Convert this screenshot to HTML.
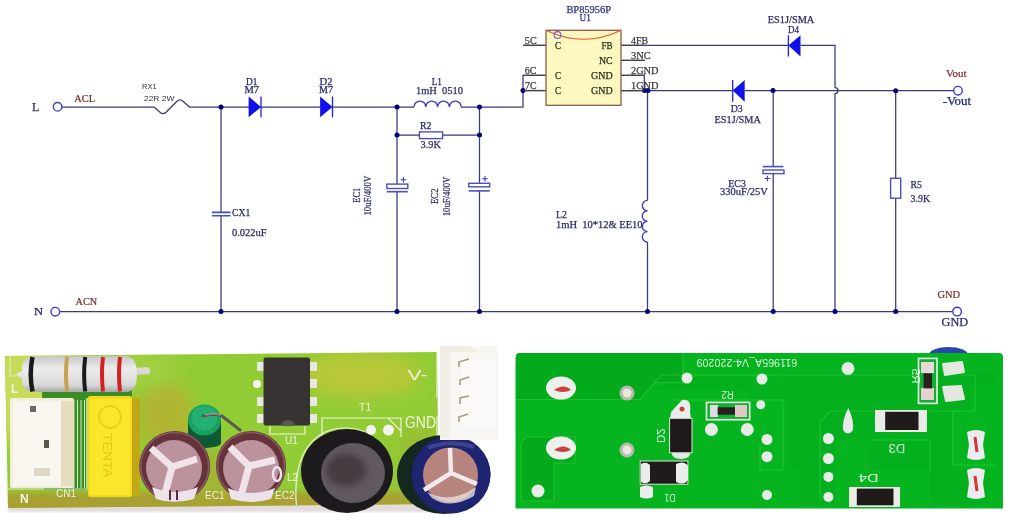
<!DOCTYPE html>
<html><head><meta charset="utf-8">
<style>
html,body{margin:0;padding:0;background:#fff;}
body{width:1010px;height:518px;overflow:hidden;position:relative;}
svg{position:absolute;left:0;top:0;}
#ph{filter:blur(0.6px);}
#sch{filter:blur(0.25px);}
text{font-family:"Liberation Serif",serif;}
.s{font-family:"Liberation Sans",sans-serif;}
</style></head><body>
<svg id="sch" width="1010" height="340" viewBox="0 0 1010 340">
<g fill="none" stroke="#3a3a76" stroke-width="1.25">
 <!-- top main line -->
 <path d="M62 107 H154"/>
 <path d="M154 107 L160 112.3 Q163 115 166 112.3 L177 101.2 Q180 98.5 183 101.2 L189.5 107 H249"/>
 <path d="M261 107 H320"/>
 <path d="M332.5 107 H414"/>
 <path d="M461 107 H523 V75.4 H546"/>
 <path d="M523 90.5 H546"/>
 <path d="M523 45.4 H546"/>
 <path d="M621 45.4 H788"/>
 <path d="M800.5 45.4 H835 V87.5 A3 3 0 0 1 835 93.5 V311.6"/>
 <path d="M621 60.4 H644.8"/>
 <path d="M621 75.4 H644.3 V90.5"/>
 <path d="M621 90.5 H732.7"/>
 <path d="M744.7 90.5 H953.5"/>
 <!-- verticals -->
 <path d="M221 107 V212.4 M221 215.7 V311.6"/>
 <path d="M397 107 V184 M397 191.7 V311.6"/>
 <path d="M397 135.1 H419.4 M442.6 135.1 H479.5"/>
 <path d="M479.5 107 V183.3 M479.5 190.9 V311.6"/>
 <path d="M647.5 90.5 V200.4 M647.5 242 V311.6"/>
 <path d="M773.2 90.5 V166.6 M773.2 173.6 V311.6"/>
 <path d="M895.7 90.5 V178.3 M895.7 198.2 V311.6"/>
 <!-- bottom line -->
 <path d="M60 311.6 H952.5"/>
</g>
<!-- components -->
<g fill="none" stroke="#3b3fc0" stroke-width="1.4">
 <circle cx="57.6" cy="106.8" r="4.3"/>
 <circle cx="55.3" cy="311.7" r="4.3"/>
 <circle cx="958" cy="90.7" r="4.3"/>
 <circle cx="957.1" cy="311.6" r="4.3"/>
 <!-- CX1 plates -->
 <path d="M211.8 212.4 H230.6 M211.8 215.7 H230.6" stroke-width="1.6" stroke="#4a4fc0"/>
 <!-- EC1 -->
 <rect x="386.8" y="184.1" width="21" height="4.4" stroke="#4a4fc0"/>
 <path d="M386.8 191.7 H407.8" stroke="#4a4fc0" stroke-width="1.6"/>
 <path d="M400.5 179.8 H406.3 M403.4 177 V182.6" stroke-width="1.1"/>
 <!-- EC2 -->
 <rect x="468.7" y="183.3" width="21" height="3.5" stroke="#4a4fc0"/>
 <path d="M468.7 190.9 H489.8" stroke="#4a4fc0" stroke-width="1.6"/>
 <path d="M482.1 178.7 H487.9 M485 175.9 V181.5" stroke-width="1.1"/>
 <!-- EC3 -->
 <path d="M762.9 166.6 H783.4" stroke="#4a4fc0" stroke-width="1.6"/>
 <rect x="763" y="170" width="21" height="3.6" stroke="#4a4fc0"/>
 <path d="M764.5 178.5 H770.3 M767.4 175.7 V181.3" stroke-width="1.1"/>
 <!-- R2 -->
 <rect x="419.4" y="131.9" width="23.2" height="6.7" stroke="#4a4fc0"/>
 <!-- R5 -->
 <rect x="890.6" y="178.3" width="10.1" height="19.9" stroke="#4a4fc0"/>
 <!-- L1 -->
 <path d="M414 107 A5.9 5.9 0 0 1 425.8 107 A5.9 5.9 0 0 1 437.6 107 A5.9 5.9 0 0 1 449.4 107 A5.9 5.9 0 0 1 461.2 107" stroke="#3b3fc0"/>
 <!-- L2 -->
 <path d="M647.5 200.4 A5.2 5.2 0 0 0 647.5 210.8 A5.2 5.2 0 0 0 647.5 221.2 A5.2 5.2 0 0 0 647.5 231.6 A5.2 5.2 0 0 0 647.5 242" stroke="#3b3fc0"/>
 <!-- diode cathode bars -->
 <path d="M261 96.5 V117.3 M332.5 96.5 V117.3 M788.4 35.2 V56.5 M732.7 79.9 V101.7" stroke="#2020e0" stroke-width="1.3"/>
</g>
<g fill="#1010ee">
 <path d="M248.6 96.5 L261 107 L248.6 117.3 Z"/>
 <path d="M320.1 96.5 L332.5 107 L320.1 117.3 Z"/>
 <path d="M800.5 35.2 L788.4 45.4 L800.5 56.5 Z"/>
 <path d="M744.7 79.9 L732.7 90.5 L744.7 101.7 Z"/>
</g>
<!-- junctions -->
<g fill="#00007a">
 <circle cx="221" cy="107" r="2.5"/><circle cx="397" cy="107" r="2.5"/><circle cx="479.5" cy="107" r="2.5"/>
 <circle cx="397" cy="135.1" r="2.5"/><circle cx="479.5" cy="135.1" r="2.5"/>
 <circle cx="523" cy="90.5" r="2.5"/>
 <circle cx="644.5" cy="90.5" r="2.5"/><circle cx="648" cy="90.5" r="2.5"/>
 <circle cx="773" cy="90.5" r="2.5"/><circle cx="895.7" cy="90.7" r="2.5"/>
 <circle cx="221" cy="311.6" r="2.5"/><circle cx="397" cy="311.6" r="2.5"/><circle cx="479.5" cy="311.6" r="2.5"/>
 <circle cx="647.5" cy="311.6" r="2.5"/><circle cx="773.2" cy="311.6" r="2.5"/><circle cx="835" cy="311.6" r="2.5"/>
 <circle cx="895.7" cy="311.6" r="2.5"/>
</g>
<g fill="none" stroke="#404048" stroke-width="1.25">
 <path d="M523 45.4 H546 M523 75.4 H546 M523 90.5 H546 M621 45.4 H644 M621 60.4 H644.8 M621 75.4 H644.3 M621 90.5 H644"/>
</g>
<!-- chip -->
<rect x="546" y="30.3" width="75" height="75" fill="#fdf8c0" stroke="#8c5a48" stroke-width="1.3"/>
<path d="M546.5 30.5 Q583.5 48 620.5 30.5" fill="none" stroke="#e05a30" stroke-width="1.2"/>
<circle cx="557.5" cy="35" r="3.4" fill="none" stroke="#6a60d0" stroke-width="1.1"/>

<!-- texts -->
<g fill="#2a2a6a" stroke="#2a2a6a" stroke-width="0.25" font-size="10.5">
 <text x="32" y="111" font-size="12" textLength="7.3" lengthAdjust="spacingAndGlyphs">L</text>
 <text x="33.9" y="315.3" font-size="11" textLength="9.1" lengthAdjust="spacingAndGlyphs">N</text>
 <text x="246" y="84.7" textLength="11.5" lengthAdjust="spacingAndGlyphs">D1</text>
 <text x="244.4" y="92.8" textLength="14.6" lengthAdjust="spacingAndGlyphs">M7</text>
 <text x="319.6" y="84.5" textLength="12.9" lengthAdjust="spacingAndGlyphs">D2</text>
 <text x="319" y="93" textLength="14" lengthAdjust="spacingAndGlyphs">M7</text>
 <text x="431.7" y="85.3" textLength="10.3" lengthAdjust="spacingAndGlyphs">L1</text>
 <text xml:space="preserve" x="416" y="94.3" textLength="47" lengthAdjust="spacingAndGlyphs">1mH  0510</text>
 <text x="420" y="128.9" textLength="11.5" lengthAdjust="spacingAndGlyphs">R2</text>
 <text x="420.6" y="147.5" textLength="20.3" lengthAdjust="spacingAndGlyphs">3.9K</text>
 <text x="566.4" y="12.5" fill="#2a3590" textLength="44.6" lengthAdjust="spacingAndGlyphs">BP85956P</text>
 <text x="579.5" y="21.1" fill="#2a3590" textLength="11.3" lengthAdjust="spacingAndGlyphs">U1</text>
 <text x="767.8" y="23.1" textLength="46.5" lengthAdjust="spacingAndGlyphs">ES1J/SMA</text>
 <text x="788" y="32.6" textLength="11" lengthAdjust="spacingAndGlyphs">D4</text>
 <text x="730.7" y="111.8" textLength="12" lengthAdjust="spacingAndGlyphs">D3</text>
 <text x="714.6" y="123.1" textLength="46.2" lengthAdjust="spacingAndGlyphs">ES1J/SMA</text>
 <text x="942.7" y="104.5" font-size="11.5" fill="#1e2a78" textLength="28.3" lengthAdjust="spacingAndGlyphs">-Vout</text>
 <text x="941.6" y="325.5" font-size="11.5" fill="#1e2a78" textLength="26.6" lengthAdjust="spacingAndGlyphs">GND</text>
 <text x="232" y="216" textLength="18.3" lengthAdjust="spacingAndGlyphs">CX1</text>
 <text x="232" y="236" textLength="34.5" lengthAdjust="spacingAndGlyphs">0.022uF</text>
 <text transform="translate(359.8 202.8) rotate(-90)" textLength="15.1" lengthAdjust="spacingAndGlyphs">EC1</text>
 <text transform="translate(370.9 215.5) rotate(-90)" textLength="39.7" lengthAdjust="spacingAndGlyphs">10uF/400V</text>
 <text transform="translate(438.3 204) rotate(-90)" textLength="15.5" lengthAdjust="spacingAndGlyphs">EC2</text>
 <text transform="translate(450.1 216.3) rotate(-90)" textLength="39.7" lengthAdjust="spacingAndGlyphs">10uF/400V</text>
 <text x="556" y="217.7" textLength="11" lengthAdjust="spacingAndGlyphs">L2</text>
 <text xml:space="preserve" x="556" y="228.1" textLength="86.6" lengthAdjust="spacingAndGlyphs">1mH  10*12&amp; EE10</text>
 <text x="728.3" y="186.7" textLength="17.6" lengthAdjust="spacingAndGlyphs">EC3</text>
 <text x="720.1" y="195.4" textLength="47.8" lengthAdjust="spacingAndGlyphs">330uF/25V</text>
 <text x="910.5" y="187.8" textLength="11.5" lengthAdjust="spacingAndGlyphs">R5</text>
 <text x="910.5" y="201.7" textLength="19.7" lengthAdjust="spacingAndGlyphs">3.9K</text>
</g>
<g fill="#7a2a2a" stroke="#7a2a2a" stroke-width="0.2" font-size="10">
 <text x="74.3" y="102" textLength="20.9" lengthAdjust="spacingAndGlyphs">ACL</text>
 <text x="75.6" y="305" textLength="21.6" lengthAdjust="spacingAndGlyphs">ACN</text>
 <text x="945.9" y="76.9" textLength="20.6" lengthAdjust="spacingAndGlyphs">Vout</text>
 <text x="937.4" y="297.7" textLength="22.7" lengthAdjust="spacingAndGlyphs">GND</text>
</g>
<g fill="#2e2e4e" class="s" font-size="7.5">
 <text class="s" x="142" y="89.4" textLength="14.7" lengthAdjust="spacingAndGlyphs">RX1</text>
 <text class="s" x="144" y="100.5" textLength="30.3" lengthAdjust="spacingAndGlyphs">22R 2W</text>
</g>
<g fill="#3a3a3a" stroke="#3a3a3a" stroke-width="0.25" font-size="10.5">
 <text x="524.8" y="44" textLength="11.9" lengthAdjust="spacingAndGlyphs">5C</text>
 <text x="524.8" y="73.7" textLength="11.8" lengthAdjust="spacingAndGlyphs">6C</text>
 <text x="525" y="89.2" textLength="11.6" lengthAdjust="spacingAndGlyphs">7C</text>
 <text x="631.1" y="43.9" textLength="17.1" lengthAdjust="spacingAndGlyphs">4FB</text>
 <text x="631" y="58.6" textLength="19.6" lengthAdjust="spacingAndGlyphs">3NC</text>
 <text x="631" y="73.5" textLength="27.5" lengthAdjust="spacingAndGlyphs">2GND</text>
 <text x="631" y="89" textLength="27.5" lengthAdjust="spacingAndGlyphs">1GND</text>
</g>
<g fill="#2a2a1a" stroke="#2a2a1a" stroke-width="0.25" font-size="10.5">
 <text x="555" y="48.7" textLength="6" lengthAdjust="spacingAndGlyphs">C</text>
 <text x="555" y="79" textLength="6" lengthAdjust="spacingAndGlyphs">C</text>
 <text x="555" y="93.9" textLength="6" lengthAdjust="spacingAndGlyphs">C</text>
 <text x="601.5" y="48.7" textLength="11" lengthAdjust="spacingAndGlyphs">FB</text>
 <text x="599" y="63.6" textLength="13.7" lengthAdjust="spacingAndGlyphs">NC</text>
 <text x="591.1" y="79" textLength="21.6" lengthAdjust="spacingAndGlyphs">GND</text>
 <text x="591.1" y="93.9" textLength="21.6" lengthAdjust="spacingAndGlyphs">GND</text>
</g>
</svg>
<svg id="ph" width="1010" height="518" viewBox="0 0 1010 518" style="position:absolute;left:0;top:0">
<defs>
 <filter id="bl1" x="-5%" y="-5%" width="110%" height="110%"><feGaussianBlur stdDeviation="0.8"/></filter>
 <filter id="bl2" x="-20%" y="-20%" width="140%" height="140%"><feGaussianBlur stdDeviation="3"/></filter>
 <filter id="bl6" x="-50%" y="-50%" width="200%" height="200%"><feGaussianBlur stdDeviation="8"/></filter>
 <linearGradient id="pcbL" x1="0" y1="0" x2="1" y2="0">
  <stop offset="0" stop-color="#b8cc48"/>
  <stop offset="0.25" stop-color="#8cc43a"/>
  <stop offset="0.55" stop-color="#86c638"/>
  <stop offset="0.85" stop-color="#9ac43a"/>
  <stop offset="1" stop-color="#a8c040"/>
 </linearGradient>
 <radialGradient id="capTop" cx="0.5" cy="0.5" r="0.5">
  <stop offset="0" stop-color="#c8a0a8"/>
  <stop offset="0.75" stop-color="#b08890"/>
  <stop offset="1" stop-color="#6a3a44"/>
 </radialGradient>
 <radialGradient id="l2g" cx="0.5" cy="0.55" r="0.5">
  <stop offset="0" stop-color="#3a3a3a"/>
  <stop offset="0.55" stop-color="#555050"/>
  <stop offset="0.7" stop-color="#2a2828"/>
  <stop offset="1" stop-color="#141414"/>
 </radialGradient>
 <linearGradient id="resG" x1="0" y1="0" x2="0" y2="1">
  <stop offset="0" stop-color="#c8c8c8"/>
  <stop offset="0.35" stop-color="#ececec"/>
  <stop offset="0.8" stop-color="#d8d8d8"/>
  <stop offset="1" stop-color="#a8a8a8"/>
 </linearGradient>
</defs>
<!-- ============ LEFT PHOTO ============ -->
<g id="leftphoto">
 <clipPath id="boardL"><path d="M5 356 L437 352 L439 504 L8 508 Z"/></clipPath>
 <!-- shadow/pinkish band below board -->
 <rect x="8" y="504" width="432" height="8" fill="#e4dcdc" filter="url(#bl1)"/>
 <g clip-path="url(#boardL)">
  <rect x="0" y="345" width="445" height="170" fill="#92cc34"/>
  <ellipse cx="30" cy="395" rx="40" ry="55" fill="#c8dc58" filter="url(#bl6)"/>
  <ellipse cx="165" cy="415" rx="28" ry="35" fill="#b8b030" opacity="0.8" filter="url(#bl6)"/>
  <ellipse cx="360" cy="375" rx="60" ry="22" fill="#b8c838" filter="url(#bl6)"/>
  <ellipse cx="120" cy="370" rx="60" ry="20" fill="#a0d040" filter="url(#bl6)"/>
  <rect x="0" y="492" width="445" height="20" fill="#a8a030" filter="url(#bl2)"/>
  <rect x="400" y="430" width="45" height="80" fill="#a0b030" opacity="0.5" filter="url(#bl6)"/>
  <ellipse cx="215" cy="480" rx="40" ry="30" fill="#a8a830" opacity="0.6" filter="url(#bl6)"/>
  <!-- dark green trace near resistor/connector -->
  <path d="M42 390 L132 390 L132 398 L86 398 L86 490 L44 490 Z" fill="#3a8c24"/>
  <g stroke="#e6f0d0" stroke-width="1" fill="none" opacity="0.9">
   <path d="M74 400 V488 M77.5 400 V488 M81 400 V488 M84.5 400 V488"/>
   <path d="M8 489 H87 M87 398 V489"/>
   <path d="M10 356 V376 M10 376 H16"/>
  </g>
  <!-- silkscreen -->
  <g stroke="#eef4dc" stroke-width="1.2" fill="none">
   <path d="M322 440 V418 H401 V437 M388 418 L401 431"/>
   <path d="M297 512 Q290 450 325 432 Q345 424 365 432"/>
   <path d="M437 352 V398 M437 416 V460"/>
   <path d="M270 426 L270 434 H305 V426"/>
  </g>
  <circle cx="371" cy="430" r="5" fill="#f4f4ee"/>
  <circle cx="388.5" cy="430" r="5.5" fill="#f4f4ee"/>
  <circle cx="415" cy="485" r="5" fill="#f0f0ea"/>
  <g font-family="Liberation Sans" style="font-family:'Liberation Sans',sans-serif" fill="#f0f4e4">
   <text x="359" y="411" font-size="10.5" style="font-family:'Liberation Sans',sans-serif">T1</text>
   <text x="407.5" y="379.5" font-size="15.5" textLength="20" lengthAdjust="spacingAndGlyphs" style="font-family:'Liberation Sans',sans-serif">V-</text>
   <text x="405" y="427.5" font-size="17" textLength="31" lengthAdjust="spacingAndGlyphs" style="font-family:'Liberation Sans',sans-serif">GND</text>
   <text x="285" y="444" font-size="10" style="font-family:'Liberation Sans',sans-serif">U1</text>
   <text x="287" y="481" font-size="10" style="font-family:'Liberation Sans',sans-serif">L2</text>
   <text x="275" y="499" font-size="10" style="font-family:'Liberation Sans',sans-serif">EC2</text>
   <text x="205" y="499" font-size="10" style="font-family:'Liberation Sans',sans-serif">EC1</text>
   <text x="56" y="497" font-size="10" style="font-family:'Liberation Sans',sans-serif">CN1</text>
   <text x="20" y="503" font-size="12" font-weight="bold" style="font-family:'Liberation Sans',sans-serif">N</text>
   <text x="11" y="393" font-size="12" font-weight="bold" style="font-family:'Liberation Sans',sans-serif">L</text>
  </g>
 </g>
 <!-- resistor -->
 <path d="M134 368 L148 367 Q152 370 149 374 L134 375 Z" fill="#d8d8d0"/>
 <path d="M15 374.6 L22 371 Q21 356.3 36 356.3 L126 356.3 Q137 357 137 374 Q137 392 126 392 L36 392 Q21 392 22 378 Z" fill="url(#resG)"/>
 <g fill="none">
  <path d="M32.5 357 Q29 374 32.5 391.5" stroke="#1a1a1a" stroke-width="4.5"/>
  <path d="M67 357 Q65 374 67 391.5" stroke="#c8a050" stroke-width="4"/>
  <path d="M85.2 357 Q83 374 85.2 391.5" stroke="#1a1a1a" stroke-width="4"/>
  <path d="M103 357 Q101 374 103 391.5" stroke="#d42020" stroke-width="4"/>
  <path d="M120 357 Q118 374 120 391.5" stroke="#d42020" stroke-width="4"/>
 </g>
 <!-- CN1 white connector -->
 <rect x="10" y="398" width="64" height="90" rx="2" fill="#f2eedc"/>
 <rect x="60" y="401" width="14" height="85" fill="#e6dcc0"/>
 <rect x="13" y="401" width="48" height="85" fill="#f8f6ee"/>
 <rect x="44" y="440" width="5" height="8" fill="#585848"/>
 <rect x="30" y="406" width="6" height="6" fill="#686868"/>
 <rect x="34" y="468" width="16" height="8" fill="#dcd8c4"/>
 <!-- yellow cap -->
 <rect x="130" y="398" width="10" height="98" fill="#c0a818"/>
 <rect x="88" y="396" width="44" height="101" rx="2" fill="#f4d81c"/>
 <rect x="90" y="399" width="40" height="96" fill="#fae62a"/>
 <circle cx="110" cy="417" r="11" fill="none" stroke="#ecd014" stroke-width="1.8"/>
 <text transform="translate(103 433) rotate(90)" font-size="12" fill="#e6c810" style="font-family:'Liberation Sans',sans-serif" textLength="45" lengthAdjust="spacingAndGlyphs">TENTA</text>
 <!-- green inductor -->
 <rect x="188" y="420" width="33" height="24" fill="#0e5a34"/>
 <ellipse cx="204.5" cy="443" rx="16.5" ry="5" fill="#0e5a34"/>
 <ellipse cx="204.5" cy="420" rx="16.5" ry="15.5" fill="#18a060"/>
 <ellipse cx="204.5" cy="418" rx="13" ry="12" fill="#24b072"/>
 <path d="M203 416 Q215 413 222 416 L240 430" stroke="#5a5a50" stroke-width="3" fill="none" stroke-linecap="round"/><path d="M205 415 Q215 412.5 221 415" stroke="#b8b8a8" stroke-width="1" fill="none"/>
 <!-- EC1 -->
 <circle cx="174.7" cy="466.5" r="35.5" fill="#66323c"/>
 <circle cx="174.7" cy="466.5" r="34" fill="none" stroke="#8a5a64" stroke-width="1.5"/>
 <circle cx="174" cy="468" r="28" fill="#bc929c"/>
 <path d="M151 448 L172 467 L197 459 M172 467 L164 497" stroke="#f0e4ea" stroke-width="7" fill="none" stroke-linejoin="round"/>
 <path d="M152 487 Q174 497 198 487 L194 499 Q174 505 156 499 Z" fill="#ece2ea"/>
 <path d="M170 490 V500 M177 490 V500" stroke="#5a2a40" stroke-width="2"/>
 <!-- EC2 -->
 <circle cx="251" cy="466" r="35" fill="#66323c"/>
 <circle cx="251" cy="466" r="33.5" fill="none" stroke="#8a5a64" stroke-width="1.5"/>
 <circle cx="251" cy="468" r="28" fill="#bc929c"/>
 <path d="M230 447 L249 466 L275 460 M249 466 L241 496" stroke="#f0e4ea" stroke-width="7" fill="none" stroke-linejoin="round"/>
 <path d="M228 488 Q251 498 275 488 L271 499 Q251 505 231 499 Z" fill="#ece2ea"/>
 <ellipse cx="277" cy="474" rx="4" ry="7" fill="none" stroke="#ece2ea" stroke-width="2.5"/>
 <!-- IC U1 -->
 <g fill="#e8e8e0">
  <rect x="257" y="362" width="8" height="9"/>
  <rect x="257" y="397" width="8" height="9"/><rect x="257" y="414" width="8" height="9"/>
  <rect x="309" y="362" width="8" height="9"/><rect x="309" y="379" width="8" height="9"/>
  <rect x="309" y="397" width="8" height="9"/><rect x="309" y="414" width="8" height="9"/>
 </g>
 <circle cx="257" cy="384" r="4" fill="#f4f4f0"/>
 <rect x="263.5" y="357.5" width="46.5" height="68" rx="2" fill="#363232"/>
 <path d="M281 426 A7 6 0 0 1 295 426 Z" fill="#5c5a50"/>
 <!-- L2 black -->
 <ellipse cx="347" cy="471" rx="46" ry="42" fill="#1c1a1c"/>
 <ellipse cx="353" cy="473" rx="32" ry="30" fill="#625860"/>
 <ellipse cx="346" cy="470" rx="20" ry="16" fill="#443a40" filter="url(#bl2)"/>
 <!-- blue cap -->
 <ellipse cx="443.7" cy="474.5" rx="46.7" ry="39.5" fill="#142820"/>
 <ellipse cx="451" cy="474.5" rx="39.5" ry="39" fill="#1e2470"/>
 <path d="M428 448 Q451 439 474 447" stroke="#5a64b0" stroke-width="4" fill="none" opacity="0.5"/>
 <ellipse cx="450.5" cy="474.7" rx="27.5" ry="27.3" fill="#b8847e"/>
 <path d="M451 473 L450 448 M451 473 L424 490 M451 473 L477 484" stroke="#f2eaea" stroke-width="4.5" fill="none"/>
 <path d="M427 492 Q450 505 476 487 L474 496 Q450 510 432 498 Z" fill="#e8dede" opacity="0.8"/>
 <!-- right white connector -->
 <rect x="440" y="346" width="58" height="94" fill="#f8f6f2"/>
 <rect x="440" y="350" width="10" height="88" fill="#f2efe8"/>
 <rect x="462" y="360" width="34" height="66" fill="#fbfaf8"/>
 <path d="M440 346 H470 L478 352 H440 Z" fill="#f0eadc" opacity="0.7"/>
 <g stroke="#a89c84" stroke-width="1.6" fill="none">
  <path d="M459 367 V362 L469 359 M460 385 V380 L469 377 M460 404 V398 L469 396 M459 422 V417 L468 414"/>
 </g>
 </g>
</g>

<!-- ============ RIGHT PHOTO ============ -->
<g id="rightphoto">
 <!-- blue cap peeking -->
 <ellipse cx="948.5" cy="355" rx="19.5" ry="8" fill="#2c46b0"/>
 <path d="M521 353 H999 Q1003 353 1003 357 V508.6 H515.5 V358 Q515.5 353 521 353 Z" fill="#05b41e"/>
 <!-- copper pour shading regions -->
 <g fill="#03aa1c">
  <path d="M516 356 Q516 353 520 353 H683 V382.6 H655 L640 399.5 H516 Z"/>
  <path d="M521 442 L527 437 H575 V463 H554 V501 H521 Z"/>
  <path d="M655 390 L670 377 H780 L786 372 H995 V385 H970 V410 H952 V470 H990 V505 H930 V470 H870 V440 H835 V505 H800 V470 H790 V400 H750 V390 H660 Z" opacity="0.35"/>
 </g>
 <g fill="none" stroke="#2ad43a" stroke-width="1.2" opacity="0.55">
  <path d="M516 399.5 H640 L655 382.6 H683 V353"/>
  <path d="M521 442 L527 437 H575 V463 H554 V501 H521 Z"/>
  <path d="M653 383 L662 375 H936"/>
  <path d="M673 400 H783 V470 H760 V445"/>
  <path d="M820 422 L830 411 H873 M930 411 H975 V375 H960"/>
  <path d="M820 422 V500 M953 411 V465 H995"/>
  <path d="M870 440 H930 V470"/>
 </g>
 <!-- through-hole pads -->
 <g>
  <ellipse cx="561" cy="388" rx="15" ry="11.5" fill="#eef0ee"/>
  <ellipse cx="561" cy="448" rx="15" ry="11.5" fill="#eef0ee"/>
  <path d="M554 390 Q564 383 571 390 Q563 394 554 390Z" fill="#c84040"/>
  <path d="M554 450 Q564 443 571 450 Q563 454 554 450Z" fill="#c84040"/>
  <circle cx="627" cy="393" r="7.5" fill="#b8b8b0"/><circle cx="627" cy="393" r="4.5" fill="#e8e8d8"/>
  <circle cx="627" cy="450" r="7.5" fill="#b8b8b0"/><circle cx="627" cy="450" r="4.5" fill="#e8e8d8"/>
  <circle cx="538" cy="491" r="6.5" fill="#e8ece8"/>
  
  <circle cx="687" cy="378" r="5.5" fill="#e8ece8"/>
  <circle cx="762" cy="379" r="5.5" fill="#e8ece8"/>
  <circle cx="848" cy="368.5" r="6.5" fill="#e8ece8"/>
  <circle cx="760.8" cy="404.8" r="4.5" fill="#e8ece8"/>
  <circle cx="711.4" cy="429.5" r="6.5" fill="#e8ece8"/><circle cx="747.3" cy="429.5" r="6.5" fill="#e8ece8"/>
  <circle cx="767" cy="439.4" r="5.5" fill="#e8ece8"/><circle cx="767" cy="456.7" r="5.5" fill="#e8ece8"/>
  <circle cx="767" cy="495" r="5" fill="#e8ece8"/>
  <circle cx="828.4" cy="438.5" r="5.5" fill="#e8ece8"/><circle cx="828.4" cy="458.5" r="5.5" fill="#e8ece8"/>
  <circle cx="828.4" cy="476.9" r="5" fill="#e8ece8"/><circle cx="828.4" cy="497" r="5" fill="#e8ece8"/>
  <path d="M848.4 408 Q854 420 853 430 Q848 437 843 430 Q842 420 848.4 408Z" fill="#eaeaea"/>
  <path d="M943 364 L962 362 L964 372 L945 375 Z" fill="#e4e8e0" stroke="#e4e8e0" stroke-width="2" stroke-linejoin="round"/>
  <path d="M943 387 L961 386 L964 399 L946 401 Z" fill="#e4e8e0" stroke="#e4e8e0" stroke-width="2" stroke-linejoin="round"/>
  <path d="M967 432 Q976 428 985 432 L983 445 L985 458 Q976 462 967 458 L969 445 Z" fill="#ecebf0"/>
  <path d="M967 470 Q976 466 985 470 L983 483 L985 497 Q976 501 967 497 L969 483 Z" fill="#ecebf0"/>
  <path d="M975 437 L977 452 M975 476 L977 491" stroke="#d03838" stroke-width="3"/>
  <path d="M682 400 Q692 398 690 412 L691 419 H670 L671 412 Z" fill="#ececec"/><circle cx="682" cy="409" r="2.5" fill="#c04040"/>
  <path d="M672 452 H690 Q691 459 681 459 Q671 459 672 452Z" fill="#e6e6e6"/>
 </g>
 <!-- SMD diodes -->
 <g>
  <rect x="669.6" y="418.3" width="22.4" height="34.5" fill="#1e1a1a" stroke="#d8e8d8" stroke-width="1"/>
  <rect x="640.2" y="461" width="47.7" height="23.2" fill="#201a1a" stroke="#d8e8d8" stroke-width="1"/>
  <path d="M641 464 Q646 461 650 465 V481 Q646 485 641 482 Z" fill="#ececec"/>
  <path d="M676 464 Q684 460 688 466 V480 Q684 486 676 482 Z" fill="#ececec"/>
  <path d="M640 487 Q646 484 653 487 V497 Q646 500 640 497 Z" fill="#ececec"/>
  <rect x="875" y="410" width="52" height="22" fill="#eaece8"/>
  <rect x="885.2" y="411.8" width="33.3" height="18.2" fill="#201a1a"/>
  <rect x="849" y="487" width="51" height="20" fill="#eaece8"/>
  <rect x="856.8" y="488.6" width="36.7" height="16.7" fill="#201a1a"/>
  <!-- R2 -->
  <rect x="706.5" y="402.4" width="43.2" height="17.3" fill="#10b030" stroke="#eef4ee" stroke-width="1.6"/>
  <rect x="710" y="405" width="8" height="12" fill="#e0dce0"/><rect x="735" y="405" width="12" height="12" fill="#e0c8c8"/>
  <rect x="717.6" y="407.3" width="17.3" height="7.4" fill="#2a2020"/>
  <!-- R5 -->
  <rect x="918.5" y="358.4" width="18.5" height="45" fill="#10b030" stroke="#eef4ee" stroke-width="1.6"/>
  <rect x="921" y="362" width="13" height="11" fill="#e8d8d8"/><rect x="921" y="388" width="13" height="12" fill="#e8d0d0"/>
  <rect x="923.6" y="373.4" width="8.4" height="15" fill="#2a2020"/>
 </g>
 <!-- silk text -->
 <g fill="#d8f4dc" style="font-family:'Liberation Sans',sans-serif">
  <text transform="translate(797.2 359.1) scale(-1 -1)" font-size="11" textLength="100.6" lengthAdjust="spacingAndGlyphs" style="font-family:'Liberation Sans',sans-serif">611965A_V4-220209</text>
  <text transform="translate(733.7 391.2) scale(-1 -1)" font-size="11" textLength="12.4" lengthAdjust="spacingAndGlyphs" style="font-family:'Liberation Sans',sans-serif">R2</text>
  <text transform="translate(657 443) rotate(-90) scale(1 -1)" font-size="10" textLength="14.7" lengthAdjust="spacingAndGlyphs" style="font-family:'Liberation Sans',sans-serif">D2</text>
  <text transform="translate(675.6 493.8) scale(-1 -1)" font-size="11" textLength="11.1" lengthAdjust="spacingAndGlyphs" style="font-family:'Liberation Sans',sans-serif">D1</text>
  <text transform="translate(905.2 443.5) scale(-1 -1)" font-size="13" textLength="16.7" lengthAdjust="spacingAndGlyphs" style="font-family:'Liberation Sans',sans-serif">D3</text>
  <text transform="translate(878.5 473.5) scale(-1 -1)" font-size="11" textLength="20.1" lengthAdjust="spacingAndGlyphs" style="font-family:'Liberation Sans',sans-serif">D4</text>
  <text transform="translate(911.9 383.4) rotate(90) scale(-1 1)" font-size="11" textLength="15" lengthAdjust="spacingAndGlyphs" style="font-family:'Liberation Sans',sans-serif">R5</text>
 </g>
</g>

</svg>

</body></html>
